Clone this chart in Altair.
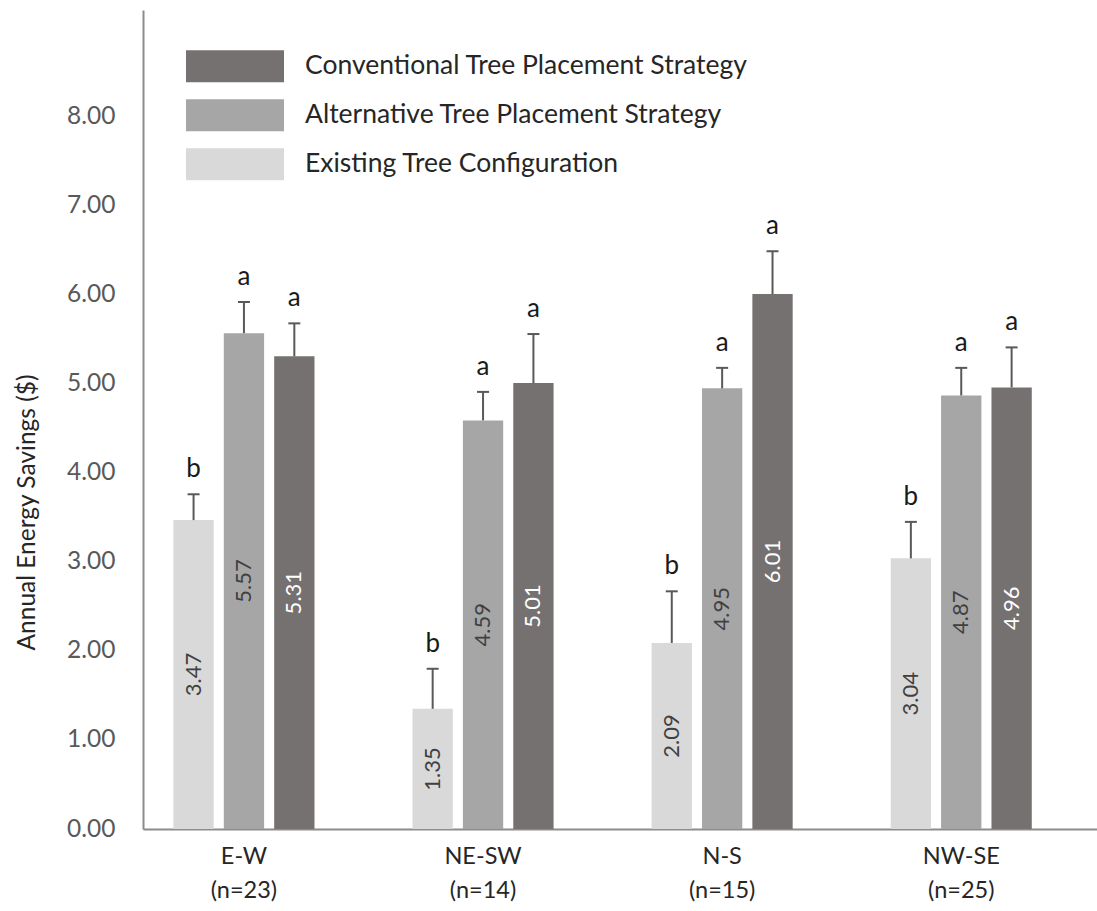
import altair as alt
import pandas as pd

# Orientation groups and their sample sizes
orientations = ["E-W", "NE-SW", "N-S", "NW-SE"]
sample_sizes = [23, 14, 15, 25]

# Series, in the order the bars appear inside each group
strategies = [
    "Existing Tree Configuration",
    "Alternative Tree Placement Strategy",
    "Conventional Tree Placement Strategy",
]
colors = ["#d9d9d9", "#a6a6a6", "#767171"]

# Mean annual savings ($) per orientation
existing = [3.47, 1.35, 2.09, 3.04]
alternative = [5.57, 4.59, 4.95, 4.87]
conventional = [5.31, 5.01, 6.01, 4.96]

# Standard errors (upper error bar length)
existing_err = [0.29, 0.45, 0.58, 0.41]
alternative_err = [0.35, 0.32, 0.23, 0.31]
conventional_err = [0.37, 0.55, 0.48, 0.45]

# Significance letters
existing_sig = ["b", "b", "b", "b"]
alternative_sig = ["a", "a", "a", "a"]
conventional_sig = ["a", "a", "a", "a"]

y_ticks = [0, 1, 2, 3, 4, 5, 6, 7, 8]

FONT = "Lato"
FS = 26

groups = [f"{o}|(n={n})" for o, n in zip(orientations, sample_sizes)]
series = [
    (strategies[0], existing, existing_err, existing_sig),
    (strategies[1], alternative, alternative_err, alternative_sig),
    (strategies[2], conventional, conventional_err, conventional_sig),
]
rows = []
for name, vals, errs, sigs in series:
    for g, v, e, s in zip(groups, vals, errs, sigs):
        rows.append({"group": g, "strategy": name, "value": v, "err": e, "sig": s})
df = pd.DataFrame(rows)

base = alt.Chart(df).transform_calculate(
    upper="datum.value + datum.err", mid="datum.value / 2"
).encode(
    x=alt.X(
        "group:N",
        sort=groups,
        title=None,
        scale=alt.Scale(paddingInner=0.41, paddingOuter=0.2, align=0.318),
        axis=alt.Axis(
            labelExpr="split(datum.label, '|')",
            labelAngle=0,
            ticks=False,
            tickSize=0,
            domainColor="#8c8c8c",
            domainWidth=2,
            labelFont=FONT,
            labelFontSize=23.5,
            labelColor="#262626",
            labelLineHeight=34,
            labelPadding=15,
            labelLimit=1000,
        ),
    ),
    xOffset=alt.XOffset(
        "strategy:N", sort=strategies, scale=alt.Scale(paddingInner=0.2, paddingOuter=0)
    ),
)

bars = base.mark_bar().encode(
    y=alt.Y(
        "value:Q",
        scale=alt.Scale(domain=[0, 9.2], nice=False),
        axis=alt.Axis(
            values=y_ticks,
            format=".2f",
            ticks=False,
            tickSize=0,
            grid=False,
            domainColor="#8c8c8c",
            domainWidth=2,
            labelFont=FONT,
            labelFontSize=24.5,
            labelColor="#595959",
            labelPadding=28,
            title="Annual Energy Savings ($)",
            titleX=-116,
            titleY=502,
            titleAngle=270,
            titleAlign="center",
            titleBaseline="middle",
            titleFont=FONT,
            titleFontSize=24.5,
            titleFontWeight="normal",
            titleColor="#262626",
        ),
    ),
    color=alt.Color(
        "strategy:N",
        scale=alt.Scale(domain=strategies, range=colors),
        legend=alt.Legend(
            orient="none",
            legendX=43,
            legendY=32,
            title=None,
            values=strategies[::-1],
            symbolType="M-1,-0.3265H1V0.3265H-1Z",
            symbolSize=9604,
            symbolStrokeWidth=0,
            symbolOpacity=1,
            clipHeight=48.5,
            rowPadding=0,
            labelOffset=21,
            labelFont=FONT,
            labelFontSize=26.5,
            labelColor="#262626",
            labelLimit=1000,
            padding=0,
        ),
    ),
)

err_rule = base.mark_rule(color="#595959", strokeWidth=2).encode(
    y="value:Q", y2="upper:Q"
)
err_cap = base.mark_tick(
    color="#595959", size=12, thickness=2, orient="horizontal", opacity=1
).encode(y="upper:Q")

sig_text = base.mark_text(
    font=FONT, fontSize=FS, color="#1a1a1a", dy=-17, baseline="alphabetic"
).encode(y="upper:Q", text="sig:N")

value_text = base.mark_text(
    font=FONT, fontSize=22, angle=270, align="center", baseline="middle"
).encode(
    y="mid:Q",
    text=alt.Text("value:Q", format=".2f"),
    color=alt.condition(
        alt.datum.strategy == strategies[2], alt.value("#ffffff"), alt.value("#404040")
    ),
)

chart = (
    alt.layer(bars, err_rule, err_cap, sig_text, value_text)
    .properties(
        width=954,
        height=819,
        padding={"left": 143, "top": 10, "right": 0, "bottom": 82},
        autosize=alt.AutoSizeParams(type="none"),
        background="#ffffff",
    )
    .configure_view(strokeWidth=0)
)

chart.save("out.html", embed_options={"renderer": "svg", "actions": False})
